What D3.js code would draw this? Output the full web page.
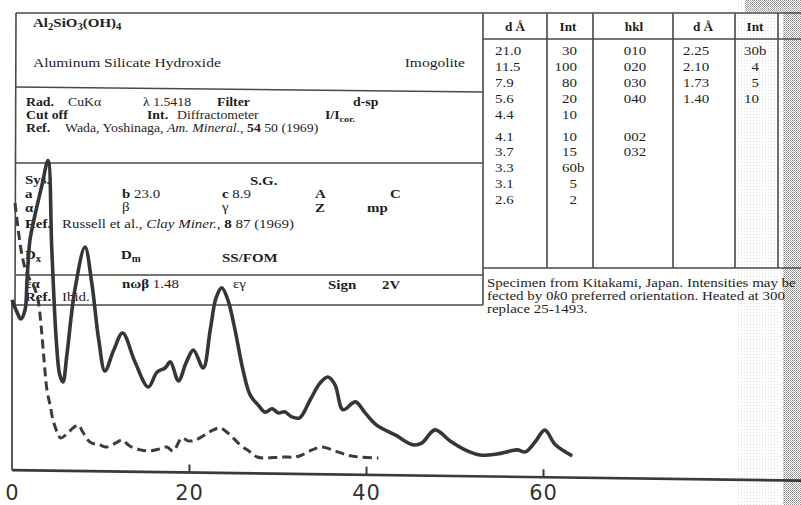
<!DOCTYPE html>
<html>
<head>
<meta charset="utf-8">
<script src="https://cdn.jsdelivr.net/npm/d3@7"></script>
<style>
  body { margin: 0; background: #fff; }
  svg { display: block; }
</style>
</head>
<body>
<script>
// solid trace: 2-theta (deg) and relative intensity
var angleSolid = [0.0, 0.56, 1.0, 1.47, 1.7, 2.03, 2.6, 3.39, 4.07, 4.5, 5.0, 5.4, 5.76, 6.2, 7.1, 8.25, 9.0, 9.8, 10.5,
	11.5, 12.5, 13.9, 15.4, 16.4, 17.3, 17.9, 18.8, 19.7, 20.5, 21.6, 22.4, 23.05, 23.7, 24.4, 25.2, 26.1, 26.9, 27.8, 28.6,
	29.4, 30.1, 30.8, 31.6, 32.5, 33.7, 34.8, 35.7, 36.5, 37.4, 38.8, 39.9, 41.2, 43.3, 45.3, 46.3, 47.8, 49.5, 51.2, 52.9,
	54.8, 56.3, 57.1, 58.0, 59.1, 60.2, 61.4, 63.3];
var countSolid = [54.9, 51.0, 48.8, 51.7, 61.4, 74.3, 82.4, 92.1, 100, 71.2, 42.2, 30.9, 28.7, 37.4, 58.4, 72.3, 61.0, 42.4, 32.4,
	39.2, 44.7, 35.4, 27.4, 32.3, 33.6, 35.6, 29.5, 35.6, 39.5, 33.8, 46.1, 56.4, 59.7, 55.8, 46.2, 33.3, 25.3, 22.1, 19.8,
	20.9, 19.6, 20.0, 18.4, 18.1, 24.0, 29.4, 31.4, 28.9, 20.9, 23.5, 20.0, 16.1, 13.0, 9.9, 10.5, 14.8, 11.3, 8.5, 6.9,
	7.3, 8.3, 8.7, 8.1, 11.3, 15.2, 10.5, 7.0];

// dashed trace
var angleDashed = [0.34, 0.68, 1.02, 1.47, 2.03, 2.49, 2.94, 3.28, 3.62, 3.95, 4.3, 4.63, 5.1, 5.5, 6.3, 6.9, 7.5, 8.0, 8.8, 9.9,
	10.7, 11.9, 12.4, 13.3, 14.5, 15.6, 16.7, 17.5, 18.2, 19.2, 19.9, 20.7, 21.8, 22.7, 23.5, 24.4, 25.8, 26.9, 27.7, 28.7,
	30.3, 31.8, 32.5, 33.9, 35.0, 36.5, 37.9, 39.3, 41.4];
var countDashed = [86.2, 78.1, 71.1, 65.3, 61.4, 59.2, 55.0, 47.0, 35.7, 26.0, 21.2, 16.4, 12.5, 10.6, 12.2, 13.9, 14.8, 12.6, 9.4, 8.5,
	7.9, 9.5, 10.2, 8.3, 7.1, 6.8, 7.5, 8.1, 6.9, 11.1, 10.2, 10.5, 12.2, 13.8, 14.5, 12.9, 9.1, 6.9, 5.3, 5.0,
	5.4, 5.4, 5.8, 7.8, 8.8, 7.6, 6.3, 5.7, 5.5];

var tickMarks = [20, 40, 60];
var tickLabels = [0, 20, 40, 60];

// d-spacing table on the card
var dFirst = ["21.0", "11.5", "7.9", "5.6", "4.4", "4.1", "3.7", "3.3", "3.1", "2.6"];
var intFirst = ["30", "100", "80", "20", "10", "10", "15", "60b", "5", "2"];
var hklFirst = ["010", "020", "030", "040", "", "002", "032", "", "", ""];
var dSecond = ["2.25", "2.10", "1.73", "1.40"];
var intSecond = ["30b", "4", "5", "10"];

var width = 801;
var height = 505;
var sx = 1.15; // the scan is stretched a little sideways
var serif = "'Liberation Serif', 'Times New Roman', Times, serif";

var svg = d3.select("body")
			.append("svg")
			.attr("width", width)
			.attr("height", height);

// halftone grey at the scanner edge
var defs = svg.append("defs");
var dense = defs.append("pattern")
			.attr("id", "dense")
			.attr("width", 2)
			.attr("height", 2)
			.attr("patternUnits", "userSpaceOnUse");
dense.append("rect").attr("width", 1).attr("height", 1).attr("fill", "#8f8f8f");
dense.append("rect").attr("x", 1).attr("y", 1).attr("width", 1).attr("height", 1).attr("fill", "#a8a8a8");
var light = defs.append("pattern")
			.attr("id", "light")
			.attr("width", 3)
			.attr("height", 3)
			.attr("patternUnits", "userSpaceOnUse");
light.append("rect").attr("width", 1).attr("height", 1).attr("fill", "#dedede");

svg.append("rect").attr("x", 738).attr("y", 0).attr("width", 45).attr("height", height).attr("fill", "url(#light)");
svg.append("rect").attr("x", 745).attr("y", 0).attr("width", 56).attr("height", 12).attr("fill", "url(#dense)");
svg.append("rect").attr("x", 783).attr("y", 0).attr("width", 18).attr("height", height).attr("fill", "url(#dense)");

// card frame
var card = svg.append("g").attr("class", "card");
var frame = [
	[16, 13, 483, 13], [483, 13, 801, 13], [16, 87, 483, 92], [16, 163, 483, 163],
	[16, 275, 483, 275], [12, 305, 483, 305], [483, 39, 801, 39], [483, 268, 801, 268],
	[16, 13, 15, 305], [483, 13, 483, 305], [547, 13, 547, 268], [593, 13, 593, 268],
	[673, 13, 673, 268], [735, 13, 735, 268], [778, 13, 778, 268]
];
card.selectAll("line.frame")
	.data(frame)
	.enter()
	.append("line")
	.attr("class", "frame")
	.attr("x1", d => d[0]).attr("y1", d => d[1])
	.attr("x2", d => d[2]).attr("y2", d => d[3])
	.attr("stroke", "#4a4a4a")
	.attr("stroke-width", 1.6);

// write a run of text; parts are strings or [string, "b i sub"]
function write(x, y, parts, size, anchor) {
	size = size || 13;
	var t = card.append("text")
			.attr("transform", "translate(" + x + "," + y + ") scale(" + sx + ",1)")
			.attr("font-family", serif)
			.attr("font-size", size)
			.attr("fill", "#1e1e1e")
			.attr("text-anchor", anchor || "start");
	var shift = 0;
	parts.forEach(function(p) {
		if (typeof p === "string") p = [p, ""];
		var flags = p[1].split(" ");
		var s = t.append("tspan").text(p[0]);
		var want = flags.indexOf("sub") >= 0 ? 3 : 0;
		if (want !== shift) { s.attr("dy", want - shift); shift = want; }
		if (flags.indexOf("b") >= 0) s.attr("font-weight", "bold");
		if (flags.indexOf("i") >= 0) s.attr("font-style", "italic");
		if (want) s.attr("font-size", size * 0.72);
	});
}

// top block
write(33, 27, [["Al", "b"], ["2", "b sub"], ["SiO", "b"], ["3", "b sub"], ["(OH)", "b"], ["4", "b sub"]]);
write(33, 67, ["Aluminum Silicate Hydroxide"], 13.5);
write(465, 67, ["Imogolite"], 13.5, "end");
write(26, 106, [["Rad.", "b"]], 12);
write(68, 106, ["CuKα"], 12);
write(143, 106, ["λ 1.5418"], 12);
write(217, 106, [["Filter", "b"]], 12);
write(353, 106, [["d-sp", "b"]], 12);
write(26, 119, [["Cut off", "b"]], 12);
write(147, 119, [["Int.", "b"]], 12);
write(177, 119, ["Diffractometer"], 12);
write(325, 119, [["I/I", "b"], ["cor.", "b sub"]], 12);
write(26, 132, [["Ref.", "b"]], 12);
write(65, 132, ["Wada, Yoshinaga, ", ["Am. Mineral.", "i"], ", ", ["54", "b"], " 50 (1969)"], 12);

// crystal data block
write(25, 184, [["Sys.", "b"]]);
write(250, 185, [["S.G.", "b"]]);
write(25, 198, [["a", "b"]]);
write(122, 198, [["b", "b"], " 23.0"]);
write(222, 198, [["c", "b"], " 8.9"]);
write(315, 198, [["A", "b"]]);
write(390, 198, [["C", "b"]]);
write(25, 212, [["α", "b"]]);
write(122, 211, ["β"]);
write(222, 211, ["γ"]);
write(315, 212, [["Z", "b"]]);
write(367, 212, [["mp", "b"]]);
write(25, 228, [["Ref.", "b"]]);
write(62, 228, ["Russell et al., ", ["Clay Miner.", "i"], ", ", ["8", "b"], " 87 (1969)"]);
write(25, 259, [["D", "b"], ["x", "b sub"]]);
write(121, 259, [["D", "b"], ["m", "b sub"]]);
write(222, 262, [["SS/FOM", "b"]]);

// optical block
write(25, 288, [["εα", "b"]]);
write(122, 288, [["nωβ", "b"], " 1.48"]);
write(233, 288, ["εγ"]);
write(328, 289, [["Sign", "b"]]);
write(382, 289, [["2V", "b"]]);
write(25, 301, [["Ref.", "b"]]);
write(62, 301, ["Ibid."]);

// table headers
var heads = [[515, "d Å"], [568, "Int"], [634, "hkl"], [703, "d Å"], [755, "Int"]];
heads.forEach(function(h) { write(h[0], 31, [[h[1], "b"]], 11.5, "middle"); });

// table rows, a small gap after the fifth line
function rowY(i) { return 55 + i * 15.9 + (i >= 5 ? 6 : 0); }
function intCell(xEnd, y, v) {
	var num = v.replace("b", "");
	write(xEnd, y, [num], 13, "end");
	if (v !== num) write(xEnd, y, ["b"], 13, "start");
}
dFirst.forEach(function(v, i) { write(495, rowY(i), [v], 13); });
intFirst.forEach(function(v, i) { intCell(577, rowY(i), v); });
hklFirst.forEach(function(v, i) { if (v) write(635, rowY(i), [v], 13, "middle"); });
dSecond.forEach(function(v, i) { write(683, rowY(i), [v], 13); });
intSecond.forEach(function(v, i) { intCell(759, rowY(i), v); });

// comment box
write(487, 287, ["Specimen from Kitakami, Japan. Intensities may be"]);
write(487, 300, ["fected by 0", ["k", "i"], "0 preferred orientation. Heated at 300"]);
write(487, 313, ["replace 25-1493."]);

// the pattern itself, skewed like the scan
var plot = svg.append("g").attr("transform", "skewY(0.76)");
var x = d3.scaleLinear().domain([0, 60]).range([12, 543]);
var y = d3.scaleLinear().domain([0, 100]).range([470, 160]);

plot.append("g")
	.attr("transform", "translate(0," + y(0) + ")")
	.call(d3.axisBottom(x).tickValues(tickMarks).tickSize(-8).tickFormat(""))
	.call(g => g.select(".domain").remove())
	.selectAll("line")
	.attr("stroke", "#3a3a3a")
	.attr("stroke-width", 2);

// base line and left edge
plot.append("line")
	.attr("x1", x(0)).attr("x2", width)
	.attr("y1", y(0)).attr("y2", y(0))
	.attr("stroke", "#3a3a3a")
	.attr("stroke-width", 2.6);
plot.append("line")
	.attr("x1", x(0)).attr("x2", x(0))
	.attr("y1", y(0)).attr("y2", 300)
	.attr("stroke", "#4a4a4a")
	.attr("stroke-width", 1.8);

var trace = d3.line()
	.x(d => x(d[0]))
	.y(d => y(d[1]))
	.curve(d3.curveCatmullRom.alpha(0.5));

plot.append("path")
	.datum(d3.zip(angleDashed, countDashed))
	.attr("d", trace)
	.attr("fill", "none")
	.attr("stroke", "#3c3c3c")
	.attr("stroke-width", 3)
	.attr("stroke-dasharray", "9,5");

plot.append("path")
	.datum(d3.zip(angleSolid, countSolid))
	.attr("d", trace)
	.attr("fill", "none")
	.attr("stroke", "#363636")
	.attr("stroke-width", 3.6)
	.attr("stroke-linejoin", "round");

// tick numbers sit level under the axis
var labels = svg.append("g")
	.attr("transform", "translate(0,482)")
	.call(d3.axisBottom(x).tickValues(tickLabels).tickSize(0).tickPadding(3))
	.call(g => g.select(".domain").remove());
labels.selectAll("text")
	.attr("font-family", "'DejaVu Sans', sans-serif")
	.attr("fill", "#333")
	.attr("font-size", 21)
	.attr("letter-spacing", 1);
</script>
</body>
</html>
